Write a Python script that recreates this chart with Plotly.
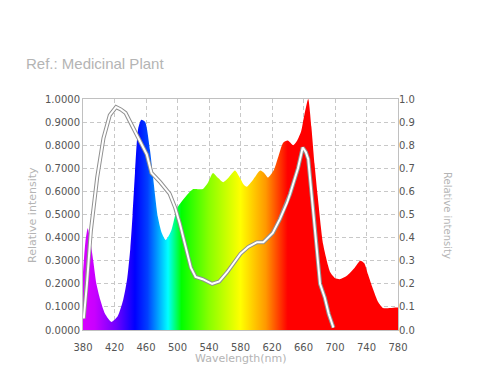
import plotly.graph_objects as go

# Spectrum (left axis, relative intensity)
spec_wl = [380, 383, 386, 390, 393, 397, 402, 408, 416, 424, 431, 436, 440, 443, 446, 450, 454, 459,
           465, 469, 475, 480, 485, 492, 500, 511, 520, 532, 539, 545, 551, 558, 565, 573,
           579, 584, 588, 596, 605, 610, 615, 622, 628, 634, 640, 647, 652, 657, 661, 666, 670, 674,
           678, 685, 694, 700, 706, 715, 725, 732, 737, 742, 748, 755, 761, 770, 778, 780]
spec_val = [0.25, 0.38, 0.44, 0.37, 0.30, 0.2, 0.13, 0.07, 0.035, 0.06, 0.13, 0.22, 0.35, 0.5, 0.68, 0.87, 0.91, 0.90,
            0.78, 0.66, 0.49, 0.42, 0.39, 0.43, 0.53, 0.58, 0.61, 0.61, 0.64, 0.68, 0.66, 0.64, 0.66, 0.69,
            0.66, 0.63, 0.62, 0.65, 0.69, 0.68, 0.66, 0.69, 0.75, 0.81, 0.82, 0.80, 0.82, 0.86, 0.93, 1.0, 0.88, 0.72,
            0.58, 0.37, 0.25, 0.225, 0.22, 0.235, 0.27, 0.30, 0.29, 0.24, 0.18, 0.12, 0.095, 0.095, 0.097, 0.097]

# Reference curve (right axis)
ref_wl = [381, 385, 390, 398, 406, 414, 422, 428, 434, 443, 454, 461, 467, 478, 490, 497, 503, 510, 517,
          523, 532, 544, 553, 563, 572, 580, 590, 601, 609, 615, 621, 630, 639, 643,
          653, 659, 663, 666, 672, 678, 681, 687, 692, 698]
ref_val = [0.05, 0.2, 0.43, 0.66, 0.83, 0.93, 0.965, 0.955, 0.94, 0.88, 0.81, 0.76, 0.68, 0.64, 0.59, 0.53, 0.46, 0.36, 0.27,
           0.23, 0.22, 0.20, 0.21, 0.25, 0.29, 0.33, 0.36, 0.38, 0.38, 0.40, 0.42, 0.48, 0.55, 0.59,
           0.70, 0.79, 0.77, 0.74, 0.53, 0.31, 0.20, 0.14, 0.07, 0.01]

x_ticks = [380, 420, 460, 500, 540, 580, 620, 660, 700, 740, 780]
y_ticks = [i / 10 for i in range(11)]

def pos(wl):
    return (wl - 380) / 400

rainbow = [
    [pos(380), "#d800ff"], [pos(395), "#c800ff"], [pos(422), "#7000ff"], [pos(446), "#0000ff"],
    [pos(462), "#0040ff"], [pos(488), "#00ffff"], [pos(505), "#00ff00"], [pos(540), "#88ff00"],
    [pos(580), "#ffff00"], [pos(612), "#ff9900"], [pos(640), "#ff0000"], [pos(780), "#ff0000"],
]

fig = go.Figure()
fig.add_trace(go.Scatter(
    x=spec_wl, y=spec_val, mode="lines", fill="tozeroy", line_shape="spline",
    line=dict(width=0.5, color="rgba(0,0,0,0)", smoothing=0.6),
    fillgradient=dict(type="horizontal", colorscale=rainbow, start=380, stop=780),
    hoverinfo="skip", showlegend=False,
))
fig.add_trace(go.Scatter(
    x=ref_wl, y=ref_val, mode="lines", yaxis="y2",
    line=dict(width=4, color="#909090"), showlegend=False, hoverinfo="skip",
))
fig.add_trace(go.Scatter(
    x=ref_wl, y=ref_val, mode="lines", yaxis="y2",
    line=dict(width=2, color="#ffffff"), showlegend=False, hoverinfo="skip",
))

tickfont = dict(family="DejaVu Sans", size=10, color="#555555")
title_color = "#b4b4b4"

fig.update_layout(
    width=480, height=377,
    margin=dict(l=75, r=90, t=91, b=55),
    paper_bgcolor="white", plot_bgcolor="white",
    xaxis=dict(range=[380, 780], tickvals=x_ticks, ticktext=[str(v) for v in x_ticks],
               showgrid=True, gridcolor="#c8c8c8", griddash="4px,3px", gridwidth=1,
               showline=True, linecolor="#c0c0c0", mirror=True, zeroline=False,
               ticks="", tickfont=tickfont, ticklabelstandoff=8, automargin=False),
    yaxis=dict(range=[0, 1], tickvals=y_ticks, tickformat=".4f",
               showgrid=True, gridcolor="#c8c8c8", griddash="4px,3px", gridwidth=1,
               showline=True, linecolor="#c0c0c0", mirror=True, zeroline=False,
               ticks="", tickfont=tickfont, automargin=False),
    yaxis2=dict(range=[0, 1], tickvals=y_ticks, tickformat=".1f", overlaying="y", side="right",
                showgrid=False, zeroline=False, ticks="", tickfont=tickfont, showline=False,
                automargin=False),
)

fig.add_annotation(text="Ref.: Medicinal Plant", xref="paper", yref="paper",
                   x=-59 / 315, y=(330 - 64) / 231, xanchor="left", yanchor="middle",
                   showarrow=False, font=dict(family="Liberation Sans", size=15, color=title_color))
fig.add_annotation(text="Relative intensity", xref="paper", yref="paper",
                   x=(32 - 83) / 315, y=(330 - 215) / 231, textangle=-90,
                   xanchor="center", yanchor="middle", showarrow=False,
                   font=dict(family="DejaVu Sans", size=11, color=title_color))
fig.add_annotation(text="Relative intensity", xref="paper", yref="paper",
                   x=(448 - 83) / 315, y=(330 - 215) / 231, textangle=90,
                   xanchor="center", yanchor="middle", showarrow=False,
                   font=dict(family="DejaVu Sans", size=10, color=title_color))
fig.add_annotation(text="Wavelength(nm)", xref="paper", yref="paper",
                   x=0.5, y=(330 - 358) / 231, xanchor="center", yanchor="middle", showarrow=False,
                   font=dict(family="DejaVu Sans", size=11, color=title_color))

fig.write_html("out.html")
